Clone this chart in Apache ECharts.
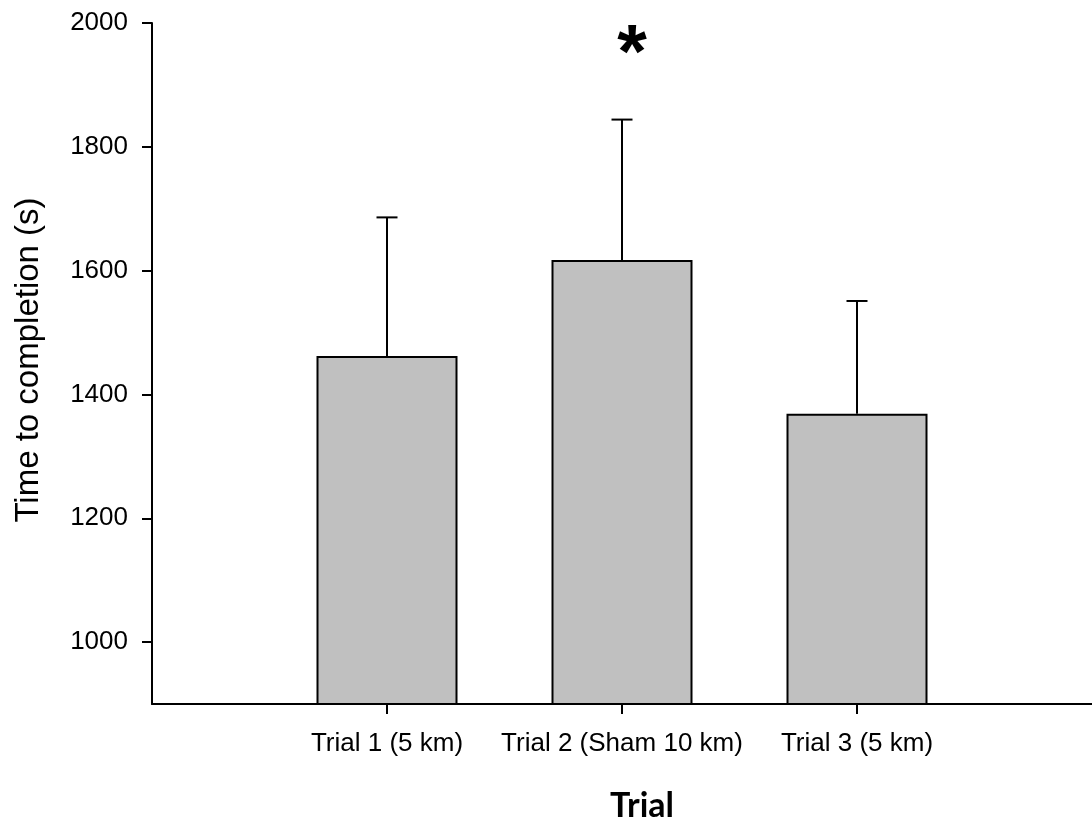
<!DOCTYPE html>
<html>
<head>
<meta charset="utf-8">
<script src="https://cdn.jsdelivr.net/npm/echarts@6/dist/echarts.min.js"></script>
<style>
  html, body { margin: 0; padding: 0; background: #fff; }
  #chart { width: 1092px; height: 822px; }
</style>
</head>
<body>
<div id="chart"></div>
<script>
// Completion time per trial, mean and standard deviation (seconds)
const trials = ['Trial 1 (5 km)', 'Trial 2 (Sham 10 km)', 'Trial 3 (5 km)'];
const meanTime = [1462, 1617, 1369];
const sdTime = [224, 227, 182];
const yTicks = [1000, 1200, 1400, 1600, 1800, 2000];
const xPositions = trials.map((_, i) => i + 1);

const chart = echarts.init(document.getElementById('chart'), null, { renderer: 'canvas' });

const axisFont = 'Liberation Sans, Arial, sans-serif';

chart.setOption({
  animation: false,
  backgroundColor: '#ffffff',
  grid: { left: 152, right: 0, top: 23, bottom: 118, containLabel: false },
  xAxis: {
    type: 'value',
    min: 0,
    max: trials.length + 1,
    splitLine: { show: false },
    axisLine: { lineStyle: { color: '#000', width: 2 } },
    axisTick: { customValues: xPositions, length: 10, lineStyle: { color: '#000', width: 2 } },
    axisLabel: {
      customValues: xPositions,
      formatter: v => trials[v - 1] || '',
      color: '#000',
      fontFamily: axisFont,
      fontSize: 26,
      margin: 27
    }
  },
  yAxis: {
    type: 'value',
    min: 900,
    max: 2000,
    splitLine: { show: false },
    axisLine: { show: true, lineStyle: { color: '#000', width: 2 } },
    axisTick: { show: true, customValues: yTicks, length: 10, lineStyle: { color: '#000', width: 2 } },
    axisLabel: {
      customValues: yTicks,
      formatter: v => String(v),
      color: '#000',
      fontFamily: axisFont,
      fontSize: 26,
      margin: 24
    }
  },
  series: [
    {
      type: 'bar',
      data: meanTime.map((v, i) => [xPositions[i], v]),
      barWidth: 141,
      clip: true,
      itemStyle: { color: '#c0c0c0', borderColor: '#000', borderWidth: 2 },
      z: 2
    },
    {
      // upper error bars (mean + SD) with a cap
      type: 'custom',
      data: meanTime.map((v, i) => [xPositions[i], v, v + sdTime[i]]),
      renderItem: (params, api) => {
        const base = api.coord([api.value(0), api.value(1)]);
        const top = api.coord([api.value(0), api.value(2)]);
        const half = 10.5;
        const style = { stroke: '#000', lineWidth: 2 };
        return {
          type: 'group',
          children: [
            { type: 'line', shape: { x1: base[0], y1: base[1], x2: top[0], y2: top[1] }, style },
            { type: 'line', shape: { x1: top[0] - half, y1: top[1], x2: top[0] + half, y2: top[1] }, style }
          ]
        };
      },
      z: 3
    }
  ],
  graphic: [
    {
      type: 'text',
      x: 29,
      y: 360,
      rotation: Math.PI / 2,
      style: {
        text: 'Time to completion (s)',
        font: '33px Liberation Sans, Arial, sans-serif',
        fill: '#000',
        align: 'center',
        verticalAlign: 'middle'
      }
    },
    {
      type: 'text',
      x: 642,
      y: 823,
      style: {
        text: 'Trial',
        font: 'bold 34px Lato, "Open Sans", sans-serif',
        fill: '#000',
        align: 'center',
        verticalAlign: 'bottom'
      }
    },
    {
      type: 'text',
      x: 632,
      y: 56,
      style: {
        text: '*',
        font: 'bold 76px Liberation Sans, Arial, sans-serif',
        fill: '#000',
        align: 'center',
        verticalAlign: 'middle'
      }
    }
  ]
});
</script>
</body>
</html>
